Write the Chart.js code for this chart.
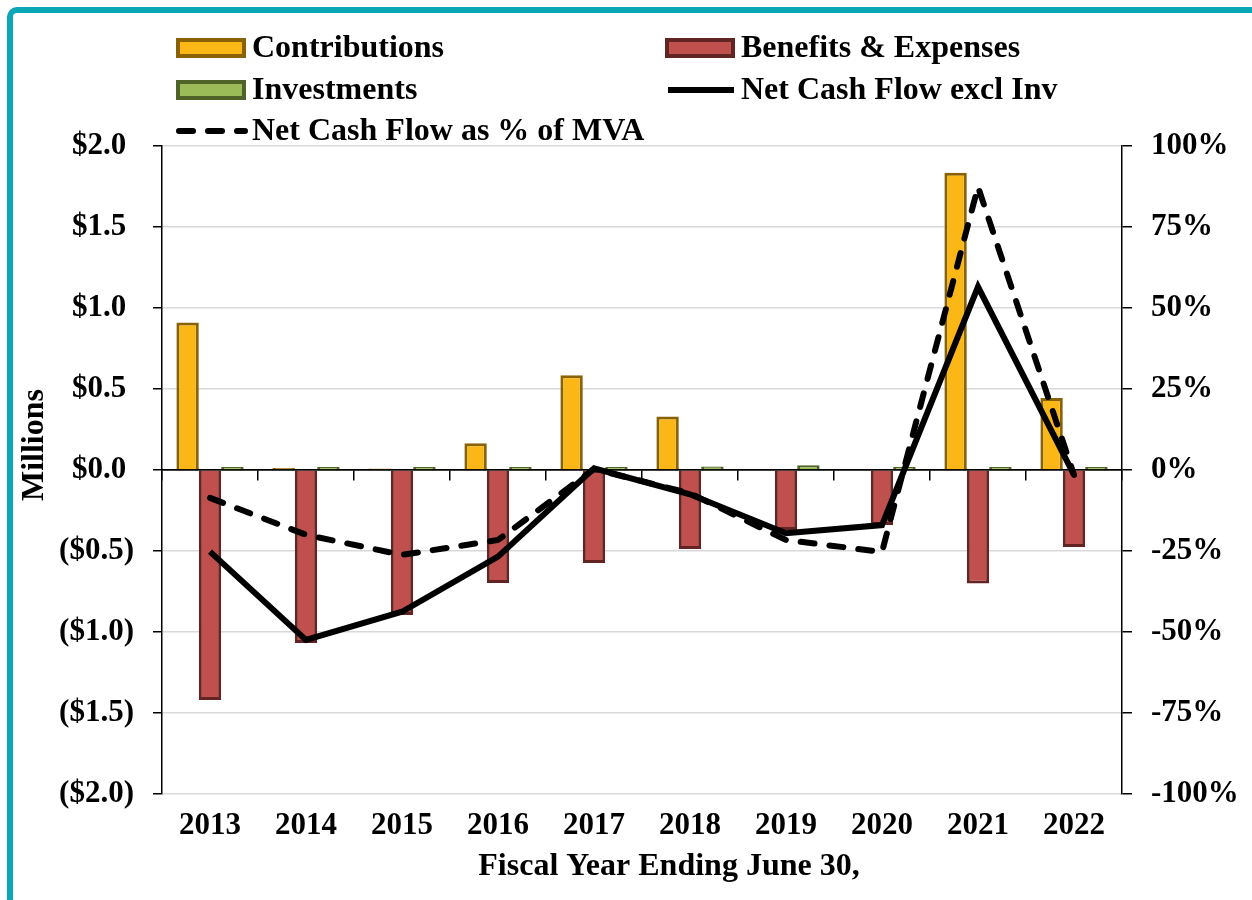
<!DOCTYPE html>
<html>
<head>
<meta charset="utf-8">
<script src="https://cdn.jsdelivr.net/npm/chart.js@4/dist/chart.umd.min.js"></script>
<style>
  html, body { margin: 0; padding: 0; background: #fff; }
  #marco {
    position: absolute; left: 7px; top: 7px; width: 1300px; height: 1000px;
    border-left: 6px solid #0AA7B6; border-top: 6px solid #0AA7B6;
    border-top-left-radius: 10px;
  }
  #grafico { position: absolute; left: 0; top: 0; }
</style>
</head>
<body>
<div id="marco"></div>
<canvas id="grafico" width="1252" height="900"></canvas>
<script>
// Datos (millones de $ y % del MVA)
const anios = ['2013', '2014', '2015', '2016', '2017', '2018', '2019', '2020', '2021', '2022'];
const contribuciones = [0.91, 0.012, 0.01, 0.165, 0.585, 0.33, 0, 0, 1.835, 0.445];
const beneficios = [-1.42, -1.068, -0.895, -0.698, -0.574, -0.488, -0.37, -0.34, -0.70, -0.475];
const inversiones = [0.008, 0.006, 0.006, 0.006, 0.01, 0.022, 0.03, 0.018, 0.008, 0.012];
const flujoNeto = [-0.504, -1.049, -0.875, -0.535, 0.01, -0.15, -0.39, -0.34, 1.131, -0.03];
const flujoPctMVA = [-8.6, -20.0, -26.2, -21.6, 0.3, -7.2, -21.6, -25.3, 87.4, -1.5];
const ticksMillones = [-2, -1.5, -1, -0.5, 0, 0.5, 1, 1.5, 2];
const tituloX = 'Fiscal Year Ending June 30,';
const tituloY = 'Millions';

const fuente = "'Liberation Serif', 'Times New Roman', serif";
Chart.defaults.color = '#000';
Chart.defaults.font.family = fuente;

// Leyenda en dos columnas y títulos de los ejes, como en el original
const leyendaPlugin = {
    id: 'leyendaGrid',
    afterDraw(chart) {
        const ctx = chart.ctx;
        const ds = chart.data.datasets;
        const items = [
            { ds: ds[0], x: 176, y: 48 },
            { ds: ds[1], x: 665, y: 48 },
            { ds: ds[2], x: 176, y: 90 },
            { ds: ds[3], x: 665, y: 90 },
            { ds: ds[4], x: 176, y: 131 }
        ];
        ctx.save();
        ctx.font = 'bold 32px ' + fuente;
        ctx.textBaseline = 'middle';
        items.forEach(it => {
            const d = it.ds;
            if (d.type === 'line') {
                ctx.beginPath();
                ctx.strokeStyle = d.borderColor;
                ctx.lineWidth = d.borderWidth;
                ctx.lineCap = d.borderDash ? 'round' : 'butt';
                ctx.setLineDash(d.borderDash || []);
                ctx.moveTo(it.x + 3, it.y);
                ctx.lineTo(it.x + 69, it.y);
                ctx.stroke();
                ctx.setLineDash([]);
            } else {
                ctx.fillStyle = d.borderColor;
                ctx.fillRect(it.x, it.y - 10, 70, 20);
                ctx.fillStyle = d.backgroundColor;
                ctx.fillRect(it.x + 4, it.y - 6, 62, 12);
            }
            ctx.fillStyle = '#000';
            ctx.fillText(d.label, it.x + 76, it.y + 1);
        });

        // Títulos de ejes
        ctx.textAlign = 'center';
        ctx.fillText(tituloX, 669, 867);
        ctx.translate(35, 445);
        ctx.rotate(-Math.PI / 2);
        ctx.fillText(tituloY, 0, 0);
        ctx.restore();
    }
};

const ctx = document.getElementById('grafico').getContext('2d');
new Chart(ctx, {
    type: 'bar',
    data: {
        labels: anios,
        datasets: [{
            label: 'Contributions',
            data: contribuciones,
            backgroundColor: '#FBB716',
            borderColor: '#8A6206',
            borderWidth: 3,
            yAxisID: 'y',
            order: 2
        }, {
            label: 'Benefits & Expenses',
            data: beneficios,
            backgroundColor: '#C0504D',
            borderColor: '#632523',
            borderWidth: 3,
            yAxisID: 'y',
            order: 2
        }, {
            label: 'Investments',
            data: inversiones,
            backgroundColor: '#9BBB59',
            borderColor: '#4F6228',
            borderWidth: 3,
            minBarLength: 3,
            yAxisID: 'y',
            order: 2
        }, {
            type: 'line',
            label: 'Net Cash Flow excl Inv',
            data: flujoNeto,
            borderColor: '#000',
            borderWidth: 6,
            pointRadius: 0,
            tension: 0,
            yAxisID: 'y',
            order: 1
        }, {
            type: 'line',
            label: 'Net Cash Flow as % of MVA',
            data: flujoPctMVA,
            borderColor: '#000',
            borderWidth: 6,
            borderDash: [14, 15],
            borderCapStyle: 'round',
            pointRadius: 0,
            tension: 0,
            yAxisID: 'y2',
            order: 0
        }]
    },
    options: {
        responsive: false,
        animation: false,
        layout: { padding: { top: 146, left: 16, right: 0, bottom: 14 } },
        datasets: {
            bar: { categoryPercentage: 0.7, barPercentage: 1.0 }
        },
        plugins: {
            legend: { display: false },
            tooltip: { enabled: false }
        },
        scales: {
            x: {
                type: 'category',
                offset: true,
                grid: { display: false, drawTicks: false },
                border: { display: false },
                ticks: { font: { size: 31, weight: 'bold' }, padding: 13 },
                afterFit: s => { s.height = 92; }
            },
            xCero: {
                type: 'category',
                labels: anios,
                position: { y: 0 },
                offset: true,
                grid: { offset: true, drawOnChartArea: false, tickLength: 10, tickColor: '#000', lineWidth: 1.5 },
                border: { display: true, color: '#000', width: 1.5 },
                ticks: { display: false }
            },
            y: {
                position: 'left',
                min: -2, max: 2,
                afterBuildTicks: s => { s.ticks = ticksMillones.map(v => ({ value: v })); },
                grid: {
                    color: c => (c.tick && c.tick.value === 0) ? '#000' : '#D9D9D9',
                    lineWidth: 1.5,
                    tickColor: '#000',
                    tickLength: 9
                },
                border: { color: '#000', width: 1.5 },
                ticks: {
                    font: { size: 31, weight: 'bold' },
                    padding: 19,
                    callback: v => v >= 0 ? '$' + v.toFixed(1) + ' ' : '($' + (-v).toFixed(1) + ')'
                },
                afterFit: s => { s.width = 146; }
            },
            y2: {
                position: 'right',
                min: -100, max: 100,
                ticks: {
                    stepSize: 25,
                    font: { size: 31, weight: 'bold' },
                    padding: 19,
                    callback: v => v + '%'
                },
                grid: { drawOnChartArea: false, tickColor: '#000', tickLength: 10, lineWidth: 1.5 },
                border: { color: '#000', width: 1.5 },
                afterFit: s => { s.width = 130; }
            }
        }
    },
    plugins: [leyendaPlugin]
});
</script>
</body>
</html>
